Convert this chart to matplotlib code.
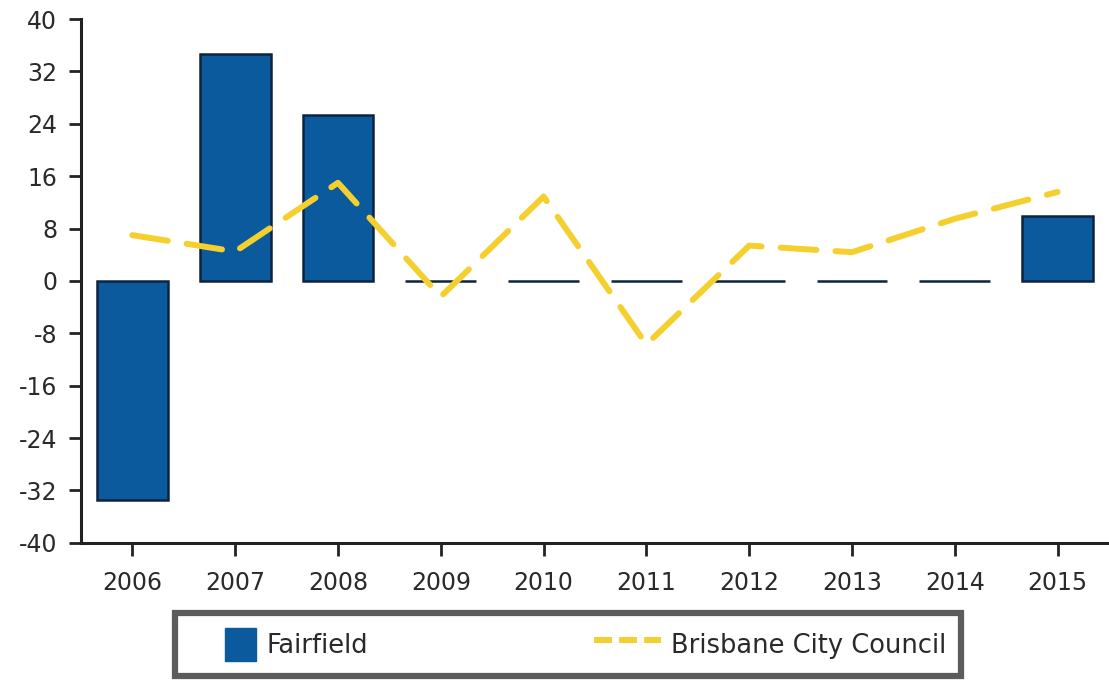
import matplotlib
matplotlib.use("Agg")
import matplotlib.pyplot as plt
import matplotlib.patches as mpatches
from matplotlib.lines import Line2D
from matplotlib.legend_handler import HandlerPatch

# data
years = [2006, 2007, 2008, 2009, 2010, 2011, 2012, 2013, 2014, 2015]
fairfield = [-33.5, 34.6, 25.3, 0, 0, 0, 0, 0, 0, 10.0]
brisbane = [7.0, 4.5, 15.0, -2.4, 12.9, -9.7, 5.4, 4.4, 9.5, 13.6]
yticks = [40, 32, 24, 16, 8, 0, -8, -16, -24, -32, -40]

bar_col = "#0c5a9e"
edge_col = "#0d2440"
line_col = "#f5cf2e"
axis_col = "#222222"

plt.rcParams["font.family"] = ["DejaVu Sans"]

fig = plt.figure(figsize=(11.09, 6.82), dpi=100)
ax = fig.add_axes([0.073, 0.204, 0.927, 0.768])

ax.bar(years, fairfield, width=0.69, color=bar_col, edgecolor=edge_col,
       linewidth=1.8, label="Fairfield", zorder=2)
ax.plot(years, brisbane, color=line_col, lw=4.3, dashes=(6, 3.2),
        dash_capstyle="round", label="Brisbane City Council", zorder=3)

ax.set_xlim(2005.5, 2015.5)
ax.set_ylim(-40, 40)
ax.set_xticks(years)
ax.set_yticks(yticks)
ax.set_yticklabels([str(v) for v in yticks])

for s in ["top", "right"]:
    ax.spines[s].set_visible(False)
for s in ["left", "bottom"]:
    ax.spines[s].set_color(axis_col)
    ax.spines[s].set_linewidth(2.2)

ax.tick_params(axis="both", colors=axis_col, width=2, length=9,
               labelsize=17, labelcolor="#2a2a2a")
ax.tick_params(axis="x", pad=11)
ax.tick_params(axis="y", pad=8)


def square_patch(legend, orig_handle, xdescent, ydescent, width, height, fontsize):
    # big square box, sits at the right end of the handle area
    side = height
    return mpatches.Rectangle((width - side * 0.92 - xdescent, -ydescent),
                              side * 0.92, side)


handles = [mpatches.Patch(color=bar_col, label="Fairfield"),
           Line2D([], [], color=line_col, lw=4.3, dashes=(3, 1.2),
                  label="Brisbane City Council")]
leg = fig.legend(handles=handles, loc="center", bbox_to_anchor=(0.512, 0.055),
                 ncol=2, fontsize=18.5, frameon=True, fancybox=False,
                 handlelength=2.6, handleheight=1.65, handletextpad=0.4,
                 columnspacing=8.8, borderpad=0.55,
                 handler_map={mpatches.Patch: HandlerPatch(patch_func=square_patch)})
leg.get_frame().set_edgecolor("#333333")
leg.get_frame().set_linewidth(4.5)
for t in leg.get_texts():
    t.set_color("#2a2a2a")

fig.savefig("out.png", dpi=100)
